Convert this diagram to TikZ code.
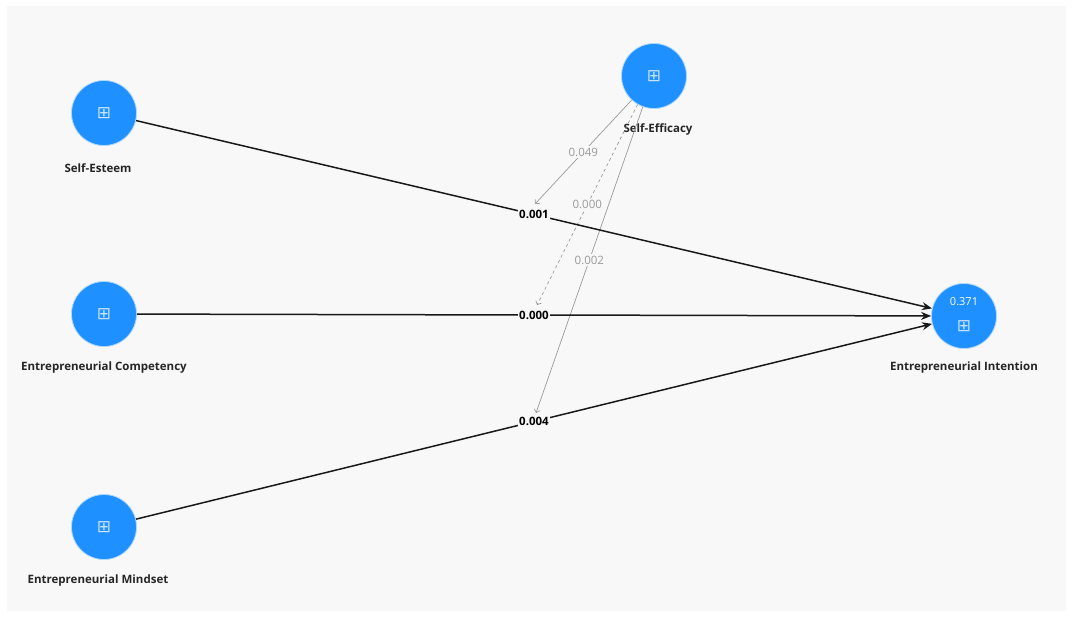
\documentclass[tikz,border=0pt]{standalone}
\usepackage{fontspec}
\setmainfont{Open Sans}
\newfontfamily\symfont{DejaVu Sans}
\usetikzlibrary{arrows.meta}
\definecolor{bg}{HTML}{F8F8F8}
\definecolor{cblue}{HTML}{1E90FF}
\definecolor{mgray}{HTML}{9A9A9A}
\tikzset{
 lv/.style={circle, fill=cblue, draw=cblue!35!white, line width=0.8pt, minimum size=65pt, inner sep=0pt},
 icon/.style={text=white!75!cblue, font=\symfont\fontsize{17}{17}\selectfont, inner sep=0pt},
 lvname/.style={font=\bfseries\fontsize{11.5}{12}\selectfont, text=black!85},
 pathline/.style={line width=1.5pt, draw=black!90, -{Stealth[length=10pt,width=8pt]}},
 plab/.style={font=\bfseries\fontsize{11.5}{12}\selectfont, fill=bg, inner sep=1.5pt},
 modline/.style={draw=mgray, line width=0.7pt, -{Straight Barb[length=3pt,width=6pt]}},
 mlab/.style={font=\fontsize{11.5}{12}\selectfont, text=mgray, fill=bg, inner sep=1.5pt},
}
\begin{document}
\begin{tikzpicture}[x=1pt,y=-1pt]
\useasboundingbox (0,0) rectangle (1073,618);
\fill[white] (0,0) rectangle (1073,618);
\fill[bg] (7,6) rectangle (1066,611);

% latent variables
\node[lv] (se) at (104,113) {};
\node[lv] (ec) at (104,314) {};
\node[lv] (em) at (104,527) {};
\node[lv] (sf) at (654,76) {};
\node[lv] (ei) at (964,316) {};

\node[icon] (ise) at (104,113) {⊞};
\node[icon] (iec) at (104,314) {⊞};
\node[icon] (iem) at (104,527) {⊞};
\node[icon] (isf) at (654,76) {⊞};
\node[icon] (iei) at (964,326) {⊞};
\node[font=\fontsize{11}{12}\selectfont, text=white, inner sep=0pt] (r2) at (964,302) {0.371};

\node[lvname] (nse) at (98,168) {Self-Esteem};
\node[lvname] (nec) at (104,368) {Entrepreneurial Competency};
\node[lvname] (nem) at (98,581) {Entrepreneurial Mindset};
\node[lvname] (nsf) at (658,129) {Self-Efficacy};
\node[lvname] (nei) at (964,368) {Entrepreneurial Intention};

% moderating end points
\coordinate (m1) at (535,204);
\coordinate (m2) at (537,305);
\coordinate (m3) at (536,413);

% moderating effects
\draw[modline] (sf) -- node[mlab] (l1) {0.049} (m1);
\draw[modline, dashed] (sf.240) -- node[mlab, pos=0.5] (l2) {0.000} (m2);
\draw[modline] (sf.250) -- node[mlab, pos=0.5] (l3) {0.002} (m3);

% structural paths
\draw[pathline] (se) -- node[plab] (p1) {0.001} (ei);
\draw[pathline] (ec) -- node[plab] (p2) {0.000} (ei);
\draw[pathline] (em) -- node[plab] (p3) {0.004} (ei);
\end{tikzpicture}
\end{document}
